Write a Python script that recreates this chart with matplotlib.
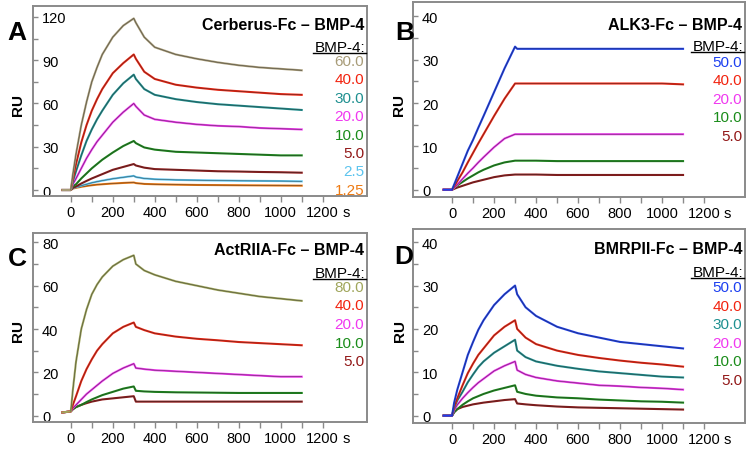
import matplotlib
matplotlib.use("Agg")
import matplotlib.pyplot as plt
from matplotlib.lines import Line2D
import matplotlib.transforms as mtransforms

plt.rcParams['font.family'] = ['Liberation Sans', 'DejaVu Sans']

# ---------------- data ----------------
TIME = [-40, 0, 10, 25, 50, 75, 100, 125, 150, 200, 250, 300, 310, 350, 400, 500, 600, 700, 800, 900, 1000, 1100]

# Panel A: Cerberus-Fc - BMP-4
A_LABELS = ["60.0", "40.0", "30.0", "20.0", "10.0", "5.0", "2.5", "1.25"]
A_60 = [0, 0, 11, 25, 45, 61, 75, 85, 94, 106, 114, 119, 116, 106, 99, 94, 91, 88.5, 86.5, 85, 84, 83]
A_40 = [0, 0, 8, 18, 33, 45, 55, 63, 70, 81, 88, 94, 91, 82, 77, 73, 71, 69.5, 68.5, 67.5, 66.5, 66]
A_30 = [0, 0, 6, 13, 24, 34, 42, 49, 55, 66, 74, 80, 77, 70, 66, 63, 61, 59.5, 58.5, 57.5, 56.5, 55.5]
A_20 = [0, 0, 4, 8, 15, 22, 28, 33.5, 38, 47, 54, 60, 58, 52, 49, 47, 45.5, 44.5, 44, 43, 42.5, 42]
A_10 = [0, 0, 2.5, 4, 8, 11.5, 15, 18, 21, 26, 30.5, 34, 32.5, 29.5, 28, 26.5, 26, 25.5, 25, 24.5, 24, 24]
A_5 = [0, 0, 1.5, 2.5, 4.5, 6.3, 8, 9.5, 11, 14, 16, 18, 17, 15.5, 14.5, 14, 13.5, 13, 12.8, 12.5, 12.3, 12]
A_2p5 = [0, 0, 1.2, 2, 3, 4, 5, 5.8, 6.5, 7.8, 8.8, 9.8, 9, 8, 7.5, 7, 6.8, 6.6, 6.4, 6.3, 6.2, 6]
A_1p25 = [0, 0, 1, 1.5, 2.2, 2.8, 3.3, 3.7, 4, 4.5, 4.9, 5.2, 4.8, 4.2, 4, 3.7, 3.5, 3.4, 3.3, 3.2, 3.1, 3]

# Panel B: ALK3-Fc - BMP-4
B_LABELS = ["50.0", "40.0", "20.0", "10.0", "5.0"]
B_50 = [0, 0, 1.2, 3, 6, 9, 11.5, 14.3, 17, 22.5, 28, 33, 32.5, 32.5, 32.5, 32.5, 32.5, 32.5, 32.5, 32.5, 32.5, 32.5]
B_40 = [0, 0, 0.8, 2, 4, 6.3, 8.5, 10.7, 12.8, 17, 21, 24.5, 24.5, 24.5, 24.5, 24.5, 24.5, 24.5, 24.5, 24.5, 24.5, 24.3]
B_20 = [0, 0, 0.5, 1.2, 2.5, 3.8, 5, 6.3, 7.5, 9.8, 11.8, 12.8, 12.8, 12.8, 12.8, 12.8, 12.8, 12.8, 12.8, 12.8, 12.8, 12.8]
B_10 = [0, 0, 0.4, 1, 1.8, 2.6, 3.3, 4, 4.6, 5.6, 6.3, 6.7, 6.7, 6.7, 6.7, 6.6, 6.6, 6.6, 6.6, 6.6, 6.6, 6.6]
B_5 = [0, 0, 0.2, 0.5, 0.9, 1.3, 1.7, 2, 2.3, 2.9, 3.3, 3.5, 3.5, 3.5, 3.5, 3.4, 3.4, 3.4, 3.4, 3.4, 3.4, 3.4]

# Panel C: ActRIIA-Fc - BMP-4
C_LABELS = ["80.0", "40.0", "20.0", "10.0", "5.0"]
C_80 = [1.5, 2, 12, 25, 40, 49, 56, 60.5, 64, 69, 72, 74, 70, 67, 65, 62, 60, 58, 56.5, 55, 54, 53]
C_40 = [1.5, 2, 5, 9, 16, 21.5, 26, 30, 33, 38, 41, 43, 41, 39.5, 38, 36.5, 35.5, 34.8, 34, 33.5, 33, 32.5]
C_20 = [1.5, 2, 3.5, 5, 7.5, 10, 12, 14, 16, 19.5, 22, 24, 22, 21.5, 21, 20.5, 20, 19.5, 19, 18.5, 18, 18]
C_10 = [1.5, 2, 3, 4, 5, 6.3, 7.5, 8.5, 9.5, 11, 12.5, 13.5, 11.5, 11.2, 11, 10.8, 10.7, 10.6, 10.5, 10.5, 10.5, 10.5]
C_5 = [1.5, 2, 3, 4, 5, 5.8, 6.5, 7, 7.5, 8, 8.5, 9, 6.5, 6.5, 6.5, 6.5, 6.5, 6.5, 6.5, 6.5, 6.5, 6.5]

# Panel D: BMRPII-Fc - BMP-4
D_LABELS = ["50.0", "40.0", "30.0", "20.0", "10.0", "5.0"]
D_50 = [0, 0, 3, 6, 10, 14, 17, 19.8, 22, 25.5, 28, 30, 28, 25, 23, 20.5, 19, 18, 17, 16.5, 16, 15.5]
D_40 = [0, 0, 2, 4, 7, 9.8, 12, 14, 15.5, 18.5, 20.5, 22, 20, 18, 16.5, 15, 14, 13.3, 12.7, 12.2, 11.8, 11.3]
D_30 = [0, 0, 1.8, 3.5, 5.5, 7.7, 9.5, 11.2, 12.5, 14.5, 16, 17.5, 15, 13.5, 12.5, 11.5, 10.8, 10.2, 9.8, 9.4, 9, 8.8]
D_20 = [0, 0, 1.3, 2.5, 4, 5.3, 6.5, 7.6, 8.5, 10.3, 11.5, 12.5, 10.5, 9.5, 8.8, 8, 7.5, 7, 6.8, 6.5, 6.3, 6]
D_10 = [0, 0, 0.8, 1.5, 2.5, 3.3, 4, 4.5, 5, 5.8, 6.4, 7, 5.5, 5, 4.6, 4.2, 4, 3.7, 3.5, 3.3, 3.2, 3]
D_5 = [0, 0, 0.8, 1.5, 2, 2.3, 2.6, 2.8, 3, 3.3, 3.6, 3.8, 2.8, 2.6, 2.4, 2.1, 1.9, 1.8, 1.7, 1.6, 1.5, 1.4]

X_TICKS = [0, 200, 400, 600, 800, 1000, 1200]
X_TICK_LABELS = ["0", "200", "400", "600", "800", "1000", "1200"]

# ---------------- styling ----------------
TAN = "#a89c78"
RED = "#f2230f"
TEAL = "#1f9090"
MAG = "#f038f0"
GREEN = "#1a8c1a"
DRED = "#921818"
LBLUE = "#5cc4ee"
ORANGE = "#ee7a12"
BLUE = "#1c3ff0"
OLIVE = "#a0a65c"
FRAME = "#8a8a8a"

W, H = 754, 452
fig = plt.figure(figsize=(W / 100, H / 100), dpi=100)


def fx(x):
    return x / W


def fy(y):
    return 1 - y / H


panels = [
    dict(letter="A", title="Cerberus-Fc \u2013 BMP-4", rect=(33, 7, 367, 197),
         xlim=(-180, 1411), ylim=(-4.16, 127.6), yticks=[0, 30, 60, 90, 120],
         yminor=[15, 45, 75, 105],
         series=[A_60, A_40, A_30, A_20, A_10, A_5, A_2p5, A_1p25],
         labels=A_LABELS,
         colors=[TAN, RED, TEAL, MAG, GREEN, DRED, LBLUE, ORANGE],
         letter_xy=(17, 33), ru_xy=(18, 105), title_y=25, head_y=48, first_y=62,
         step=18.4, right=365),
    dict(letter="B", title="ALK3-Fc \u2013 BMP-4", rect=(413, 3, 745, 198),
         xlim=(-186, 1395), ylim=(-1.68, 43.3), yticks=[0, 10, 20, 30, 40],
         yminor=[5, 15, 25, 35],
         series=[B_50, B_40, B_20, B_10, B_5],
         labels=B_LABELS,
         colors=[BLUE, RED, MAG, GREEN, DRED],
         letter_xy=(405, 33), ru_xy=(399, 105), title_y=25, head_y=47, first_y=63,
         step=18.4, right=743),
    dict(letter="C", title="ActRIIA-Fc \u2013 BMP-4", rect=(33, 234, 367, 423),
         xlim=(-180, 1411), ylim=(-2.9, 84.3), yticks=[0, 20, 40, 60, 80],
         yminor=[10, 30, 50, 70],
         series=[C_80, C_40, C_20, C_10, C_5],
         labels=C_LABELS,
         colors=[OLIVE, RED, MAG, GREEN, DRED],
         letter_xy=(17, 259), ru_xy=(18, 331), title_y=251, head_y=274, first_y=288,
         step=18.5, right=365),
    dict(letter="D", title="BMRPII-Fc \u2013 BMP-4", rect=(413, 230, 745, 424),
         xlim=(-186, 1395), ylim=(-1.7, 43.05), yticks=[0, 10, 20, 30, 40],
         yminor=[5, 15, 25, 35],
         series=[D_50, D_40, D_30, D_20, D_10, D_5],
         labels=D_LABELS,
         colors=[BLUE, RED, TEAL, MAG, GREEN, DRED],
         letter_xy=(404, 257), ru_xy=(400, 331), title_y=250, head_y=273, first_y=288,
         step=18.6, right=743),
]

for p in panels:
    x0, y0, x1, y1 = p["rect"]
    ax = fig.add_axes([fx(x0), fy(y1), (x1 - x0) / W, (y1 - y0) / H])
    ax.set_xlim(*p["xlim"])
    ax.set_ylim(*p["ylim"])

    # curves: coloured data, thin dark fit on top; first series drawn last
    n = len(p["series"])
    for i in reversed(range(n)):
        vals = p["series"][i]
        ax.plot(TIME, vals, color=p["colors"][i], lw=1.5, zorder=2 + (n - i),
                solid_joinstyle="round")
        ax.plot(TIME[1:], vals[1:], color="#303030", lw=0.45, alpha=0.7,
                zorder=2 + (n - i) + 0.5)

    for s in ax.spines.values():
        s.set_color(FRAME)
        s.set_linewidth(1.4)

    ax.set_xticks(X_TICKS)
    ax.set_xticklabels(X_TICK_LABELS)
    ax.set_xticks(list(range(100, 1300, 200)), minor=True)
    ax.tick_params(axis="x", which="both", direction="out", length=4, width=1,
                   color=FRAME, labelsize=10.5, pad=2.5)

    ax.set_yticks(p["yticks"])
    ax.set_yticklabels([str(v) for v in p["yticks"]])
    ax.set_yticks(p["yminor"], minor=True)
    ax.tick_params(axis="y", which="both", direction="in", length=3.5, width=1,
                   color=FRAME, labelsize=10.5, pad=-6.5)
    for t in ax.yaxis.get_major_ticks():
        t.label1.set_horizontalalignment("left")

    # "s" unit after the last x label
    trans = mtransforms.offset_copy(ax.get_xaxis_transform(), fig=fig,
                                    x=0, y=-6.5, units="points")
    ax.text(1310, 0, "s", transform=trans, ha="center", va="top", fontsize=10.5)

    # panel letter, RU label, title
    lx, ly = p["letter_xy"]
    fig.text(fx(lx), fy(ly), p["letter"], fontsize=19, fontweight="bold",
             ha="center", va="center")
    rx, ry = p["ru_xy"]
    fig.text(fx(rx), fy(ry), "RU", fontsize=11, fontweight="bold", rotation=90,
             ha="center", va="center")
    fig.text(fx(p["right"] - 1), fy(p["title_y"]), p["title"], fontsize=11.5,
             fontweight="bold", ha="right", va="center")

    # concentration legend
    fig.text(fx(p["right"]), fy(p["head_y"]), "BMP-4:", fontsize=11,
             ha="right", va="center")
    fig.add_artist(Line2D([fx(p["right"] - 52), fx(p["right"] + 1)],
                          [fy(p["head_y"] + 6), fy(p["head_y"] + 6)],
                          color="black", lw=1.0, transform=fig.transFigure))
    for i, (lab, col) in enumerate(zip(p["labels"], p["colors"])):
        fig.text(fx(p["right"] - 1), fy(p["first_y"] + i * p["step"]), lab,
                 fontsize=11, color=col, ha="right", va="center")

fig.savefig("out.png", dpi=100)
